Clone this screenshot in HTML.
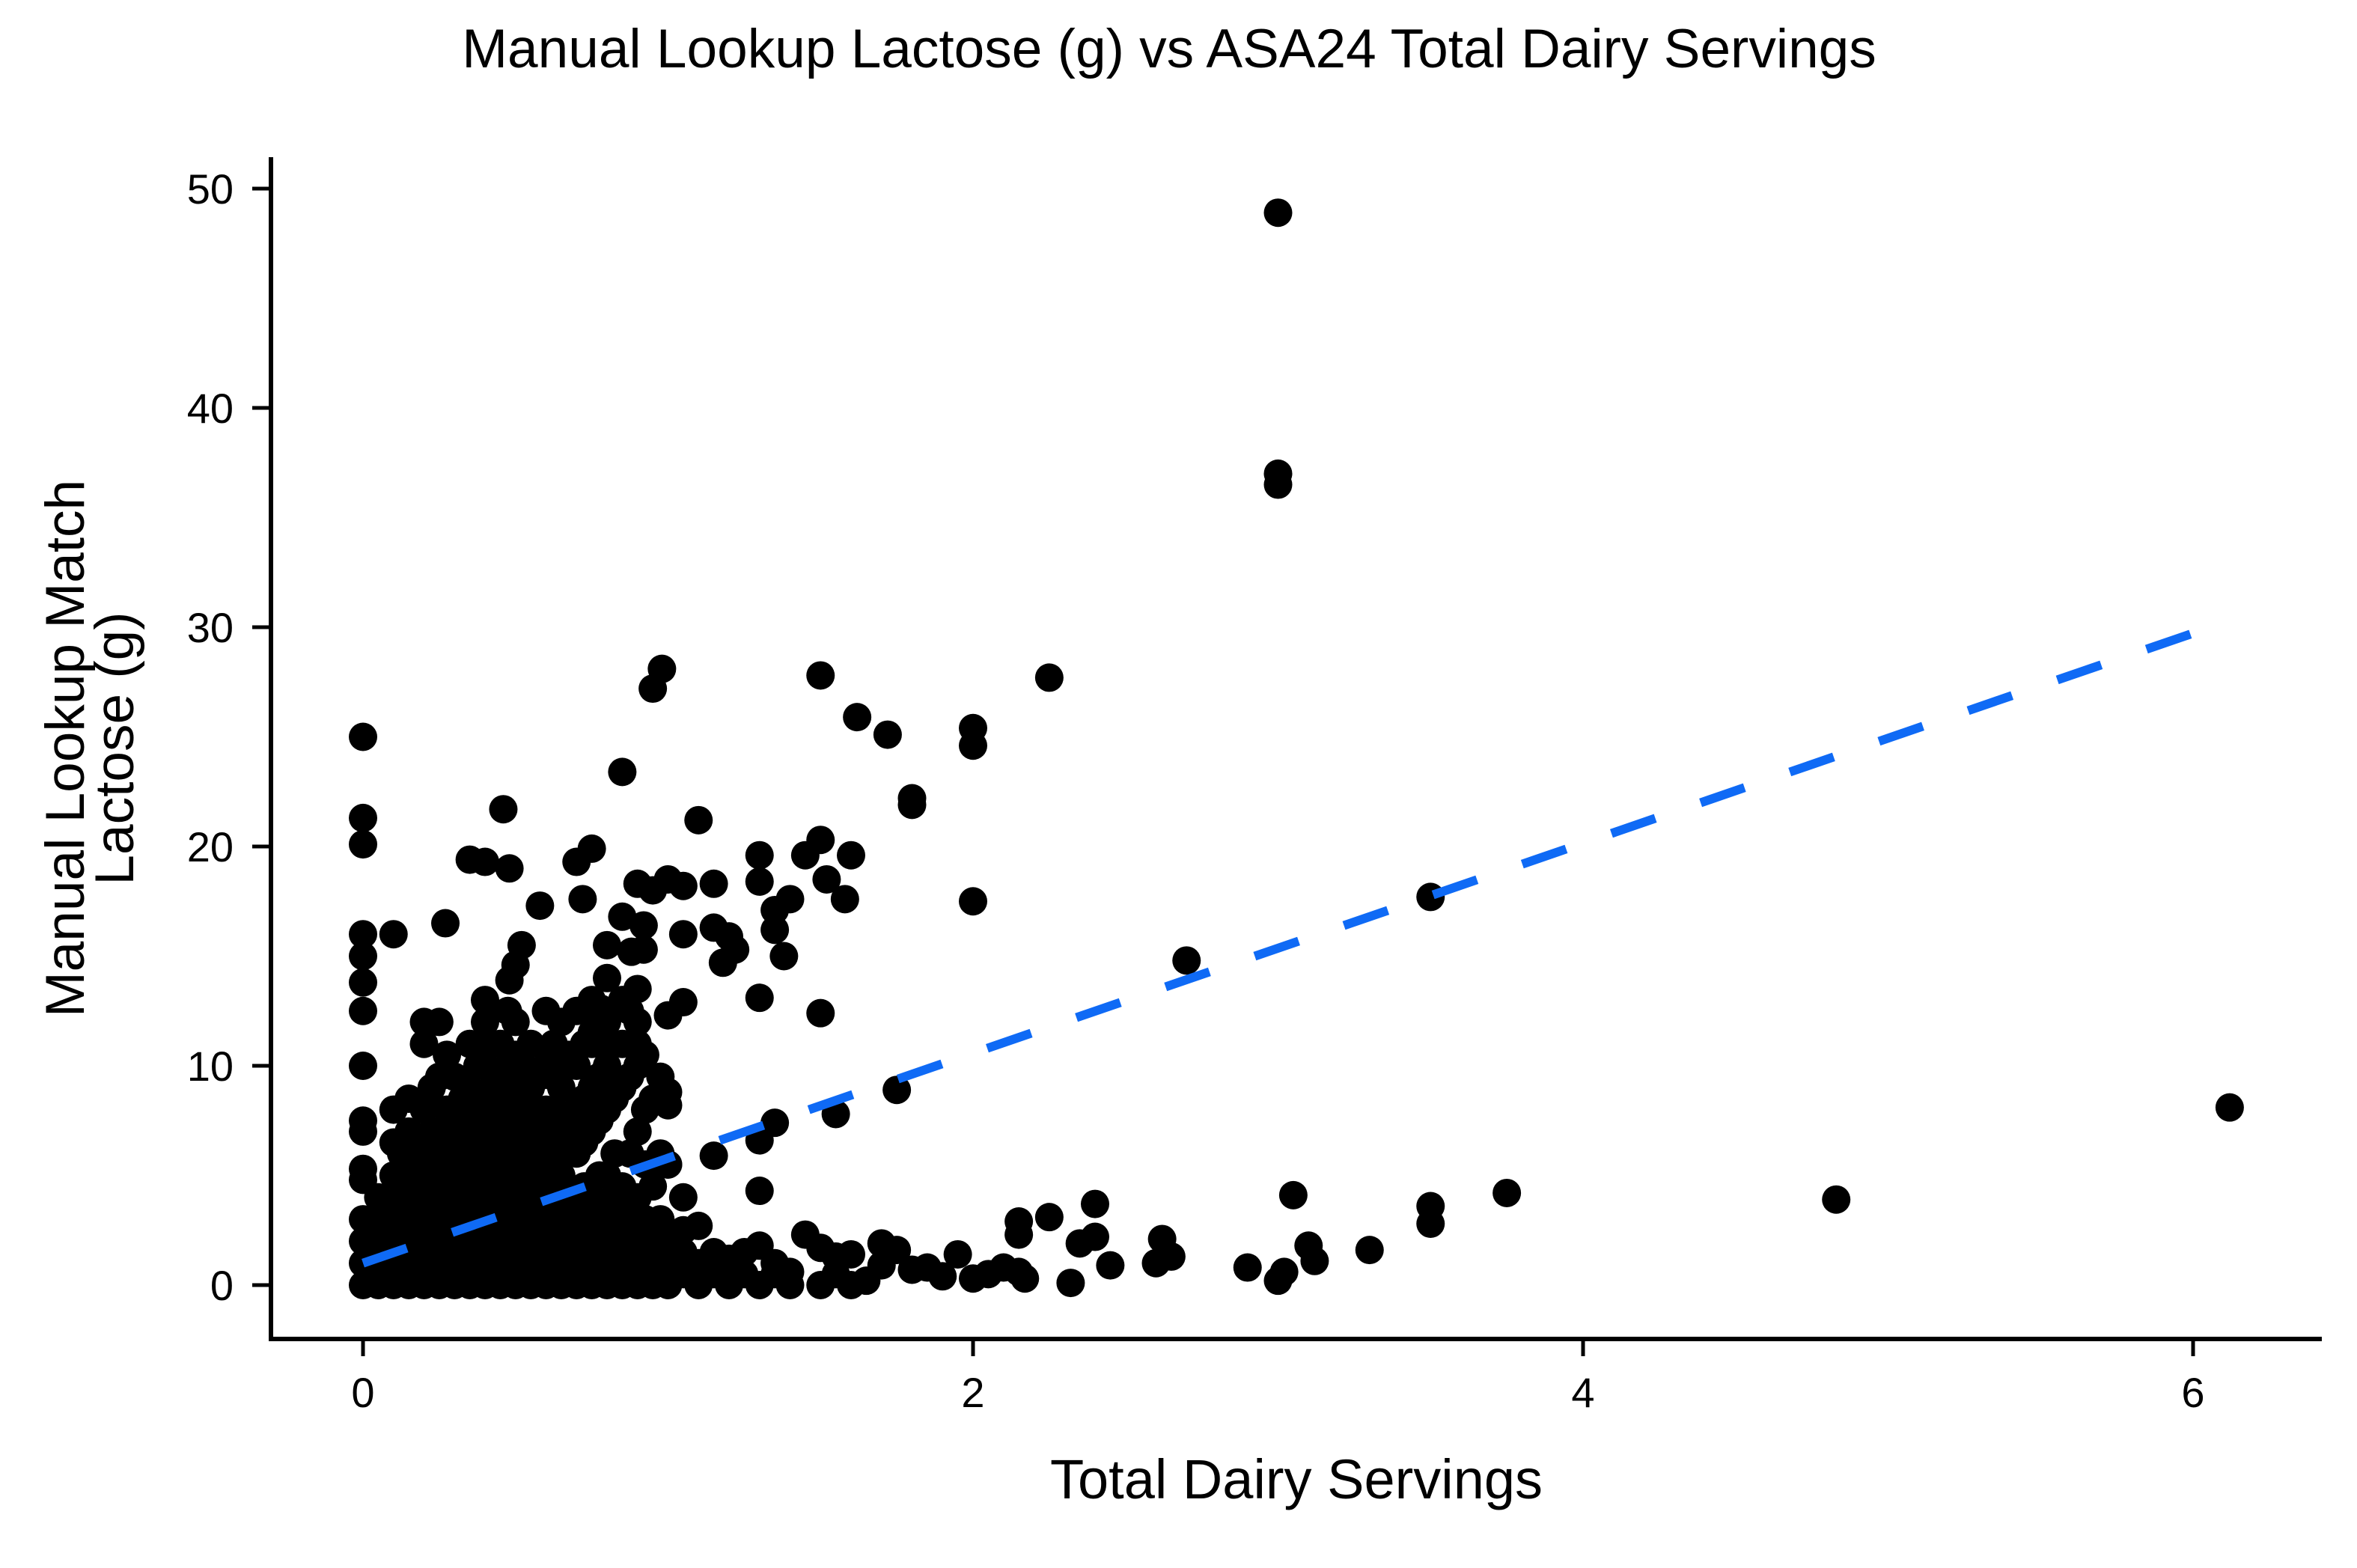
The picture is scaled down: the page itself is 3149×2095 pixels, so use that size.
<!DOCTYPE html>
<html><head><meta charset="utf-8"><style>
html,body{margin:0;padding:0;background:#fff;}
svg text{font-family:"Liberation Sans",Arial,sans-serif;fill:#000;}
</style></head><body>
<svg id="chart" width="3149" height="2090" viewBox="0 0 3149 2090" xmlns="http://www.w3.org/2000/svg">
<rect width="3149" height="2090" fill="#fff"/>
<text x="1562" y="90" font-size="73" text-anchor="middle">Manual Lookup Lactose (g) vs ASA24 Total Dairy Servings</text>
<g id="axes"></g>
<g id="points"></g>
<g id="fit"></g>
<text x="1732" y="2002" font-size="74" text-anchor="middle">Total Dairy Servings</text>
<g transform="translate(112,1000) rotate(-90)">
<text x="0" y="0" font-size="73" text-anchor="middle">Manual Lookup Match</text>
<text x="0" y="66" font-size="73" text-anchor="middle">Lactose (g)</text>
</g>
</svg>
<script>
const xTicks = [0, 2, 4, 6];
const yTicks = [0, 10, 20, 30, 40, 50];
// outlier / sparse points
const sparseX = [3,3,3,6.12,4.83,3.75,3.5,3.5,3.05,3.3,3.1,3.12,3.02,3,2.9,2.7,2.62,2.65,2.6,2.45,2.4,2.4,2.35,2.32,2.25,2.25,2.15,2.15,2.15,2.17,2.1,2.0,2.05,1.95,2,2,2,1.8,1.8,1.72,1.62,1.5,1.6,1.58,1.5,1.52,1.45,1.4,1.35,1.35,1.38,1.3,1.3,1.5,1.3,1.2,1.18,1.22,1.15,1.15,1.1,1.05,0.98,0.95,1.0,0.95,0.9,0.92,0.85,0.88,0.92,1.05,0.85,0.75,0.7,0.72,0.58,0.52,0.5,0.48,0.46,0.48,0.4,0.35,0.27,0.1,0,0,0,0,0,0,0,0,0,0,0,0,1.35,1.3,1.55,1.75,1.3,1.15,1.0,1.0,1.0,1.05,1.0,0.9,0.85,0.8,0.78,0.75,3.5];
const sparseY = [48.9,37,36.5,8.1,3.9,4.2,3.6,2.8,4.1,1.6,1.8,1.1,0.6,0.2,0.8,14.8,2.1,1.3,1.0,0.9,3.7,2.2,1.9,0.1,3.1,27.7,2.9,2.3,0.6,0.3,0.8,0.3,0.5,1.4,17.5,24.6,25.4,22.2,21.9,25.1,25.9,27.8,19.6,17.6,20.3,18.5,19.6,17.6,17.1,16.2,15.0,19.6,18.4,12.4,13.1,15.9,14.7,15.3,16.3,18.3,21.2,18.2,28.1,27.2,18.5,18.0,18.3,16.4,16.8,15.2,15.3,16.0,23.4,19.9,19.3,17.6,17.3,15.5,14.6,13.9,21.7,19.0,19.3,19.4,16.5,16.0,16,15,13.8,12.5,10,7.5,7,5.3,4.8,25,21.3,20.1,7.4,6.6,7.8,8.9,4.3,5.9,5.5,8.8,8.2,12.9,12.3,13.5,13.0,14.0,12.6,11.5,17.7];
// dense cluster: column x values and their y values
const clusterX = [0,0.05,0.1,0.15,0.2,0.25,0.3,0.35,0.4,0.45,0.5,0.55,0.6,0.65,0.7,0.75,0.8,0.85,0.9,0.95,1.0,1.1,1.2,1.3,1.4,1.45,1.5,1.55,1.6,1.65,1.7,1.75,1.8,1.85,1.9,
  0.075,0.125,0.175,0.225,0.275,0.325,0.375,0.425,0.475,0.525,0.575,0.625,0.675,0.725,0.775,0.825,0.875,0.925,0.975,1.05,1.15,1.25,1.35];
const clusterY = [[0,1,2,3],[0,1,2,3,4],[0,1,2,3,5,6.5,8],[0,1,2,3,4,5,7,8.5],[0,1,2,3,4,5,6,8,11,12],[0,1,2,3,4,5,6,7,9.5,12],[0,1,2,3,4,5,6,7,8,9.5],[0,1,2,3,4,5,6,7,8,9,11],[0,1,2,3,4,5,6,7,8,10,12,13],[0,1,2,3,4,5,6,7,8,9,11],[0,1,2,3,4,5,6,7,8,9,10.5,12],[0,1,2,3,4,5,6,7,8,9,11],[0,1,2,3,5,6,7,8,10,12.5],[0,1,2,3,5,7,9,12],[0,1,2,3,6,7,8,10,12.5],[0,1,2,3,4,7,9,11,13],[0,1,2,3.5,5,8,10,12,15.5],[0,1,2,3,4.5,9,11],[0,1,2,4,7,10,11,12],[0,1,2,4.5,8.5],[0,1,2,5.5],[0,1,2.7],[0,1.2],[0,1.8],[0,0.6],[2.3],[0,1.7],[0.5,1.3],[0,1.4],[0.2],[0.9,1.9],[1.6],[0.7],[0.8],[0.4],
  [0.5,1.5,2.5,3.5],[0.5,1.5,2.5,4,6],[0.5,1.5,2.5,3.5,4.5,6],[0.5,1.5,2.5,3.5,4.5,5.5,7,9],[0.5,1.5,2.5,3.5,4.5,5.5,6.5,8,10.5],[0.5,1.5,2.5,3.5,4.5,5.5,6.5,7.5,8.5],[0.5,1.5,2.5,3.5,4.5,5.5,6.5,7.5,8.5,10],[0.5,1.5,2.5,3.5,4.5,5.5,6.5,7.5,9,11],[0.5,1.5,2.5,3.5,4.5,5.5,6.5,7.5,8.5,10,12.5],[0.5,1.5,2.5,3.5,4.5,5.5,6.5,7.5,8.5,10],[0.5,1.5,2.5,3.5,4.5,5.5,6.5,7.5,9.5],[0.5,1.5,2.5,4,5.5,6.5,8,9.5,11],[0.5,1.5,2.5,4,6,7.5,10.5],[0.5,1.5,2.5,4.5,6.5,8.5,11],[0.5,1.5,2.5,5,7.5,9.5,12],[0.5,1.5,2.5,4,6,8.5,11],[0.5,1.5,2.5,3.5,6,9.5,12.5],[0.5,1.5,3,5.5,8,10.5],[0.5,1.5,3,6,9.5],[0.5,1.5,2.5,4],[0.5,1.5],[0.5,1.5],[0.5,1.0],[0.5,1.2]];
const fitX = [0, 6.12];
const fitY = [1.0, 30.3];

const NS = "http://www.w3.org/2000/svg";
const X0 = 485, XS = 407.5, Y0 = 1717, YS = 29.3;
function sx(v){ return X0 + v*XS; }
function sy(v){ return Y0 - v*YS; }
function mk(tag, attrs, parent){ const e=document.createElementNS(NS,tag); for(const k in attrs) e.setAttribute(k,attrs[k]); parent.appendChild(e); return e; }

const axes = document.getElementById('axes');
let yl = mk('line',{x1:362,y1:210,x2:362,y2:1792,stroke:'#000','stroke-width':6},axes);


let xl = mk('line',{x1:359,y1:1789,x2:3102,y2:1789,stroke:'#000','stroke-width':6},axes);


xTicks.forEach(t=>{
  const tk = mk('line',{x1:sx(t),y1:1792,x2:sx(t),y2:1812,stroke:'#000','stroke-width':5},axes);
  
  
  const tl = mk('text',{x:sx(t),y:1880,'font-size':56,'text-anchor':'middle'},axes);
  tl.textContent = t;
  
  
});
yTicks.forEach(t=>{
  const tk = mk('line',{x1:337,y1:sy(t),x2:359,y2:sy(t),stroke:'#000','stroke-width':5},axes);
  
  
  const tl = mk('text',{x:312,y:sy(t)+20,'font-size':56,'text-anchor':'end'},axes);
  tl.textContent = t;
  
  
});

const pts = document.getElementById('points');
function dot(x,y,r){
  const c = mk('circle',{cx:sx(x),cy:sy(y),r:r,fill:'#000'},pts);
  
  
}
sparseX.forEach((x,i)=>dot(x,sparseY[i],19));
clusterX.forEach((x,i)=>clusterY[i].forEach(y=>dot(x,y,19)));

const fit = document.getElementById('fit');
const fl = mk('line',{x1:sx(fitX[0]),y1:sy(fitY[0]),x2:sx(fitX[1]),y2:sy(fitY[1]),stroke:'#0f6af5','stroke-width':12,'stroke-dasharray':'62 64'},fit);


</script>
</body></html>
